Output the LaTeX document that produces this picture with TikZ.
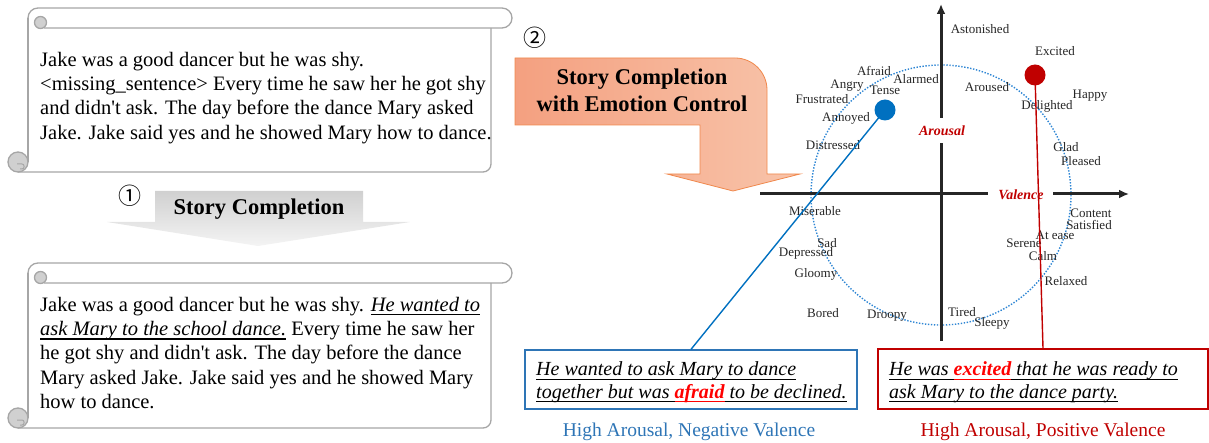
\documentclass[tikz,border=0pt]{standalone}
\usepackage{fontspec}
\setmainfont{Liberation Serif}[Ligatures=TeXOff]
\newfontfamily\circfont{Noto Sans CJK JP}
\newsavebox{\myulbox}
\newcommand{\myul}[1]{\leavevmode\sbox{\myulbox}{#1}\rlap{\rule[-3.9pt]{\wd\myulbox}{1.1pt}}\usebox{\myulbox}}
\usetikzlibrary{arrows.meta}
\definecolor{scrollgray}{HTML}{A6A6A6}
\definecolor{curlgray}{HTML}{D0D0D0}
\definecolor{axisgray}{HTML}{262626}
\definecolor{emotext}{HTML}{262626}
\definecolor{ringblue}{HTML}{2E86D4}
\definecolor{bluedot}{HTML}{0070C0}
\definecolor{reddot}{HTML}{C00000}
\definecolor{boxblue}{HTML}{2E75B6}
\definecolor{boxred}{HTML}{C00000}
\definecolor{axred}{HTML}{C00000}
\definecolor{hotred}{HTML}{FF0000}
\definecolor{orangeL}{HTML}{F4A080}
\definecolor{orangeR}{HTML}{F8C4AA}
\definecolor{orangeLine}{HTML}{F0884C}
\definecolor{grayT}{HTML}{D0D0D0}
\definecolor{grayM}{HTML}{B8B8B8}
\definecolor{grayB}{HTML}{F4F4F4}

\newcommand{\drawscroll}[2]{%
  \draw[scrollline] (28,#2-10) -- (28,#1+10);
  \draw[scrollline, rounded corners=10] (28,#1+12) -- (28,#1) -- (512,#1) -- (512,#1+20) -- (44,#1+20);
  \filldraw[curlfill] (40.5,#1+14.5) circle (6);
  \draw[scrollline, rounded corners=8] (491,#1+20) -- (491,#2) -- (18,#2);
  \filldraw[curlfill] (18,#2-10) circle (10);
  \draw[scrollline, line width=1pt, rounded corners=2] (17,#2-8) -- (24,#2-8) -- (24,#2-3) -- (20,#2-3);
}

\begin{document}
\begin{tikzpicture}[x=1pt,y=-1pt,
  scrollline/.style={draw=scrollgray,line width=1.3pt},
  curlfill/.style={fill=curlgray,draw=scrollgray,line width=1.3pt},
  storytext/.style={anchor=base west,inner sep=0pt,font=\fontsize{20.5}{24.2}\selectfont},
  boxtext/.style={anchor=base west,inner sep=0pt,font=\fontsize{20}{22.6}\selectfont},
  emo/.style={inner sep=0pt,text=emotext,font=\fontsize{13}{15}\selectfont},
  axisline/.style={draw=axisgray,line width=3pt},
  axlabel/.style={inner sep=0pt,text=axred,font=\fontsize{14}{16}\selectfont\bfseries\itshape},
  emodot/.style={circle,inner sep=0pt,minimum size=21pt},
  steplabel/.style={inner sep=0pt,anchor=base,font=\fontsize{22.5}{26}\selectfont\bfseries},
  circnum/.style={inner sep=0pt,font=\circfont\fontsize{23}{25}\selectfont},
  outbox/.style={inner sep=0pt,line width=1.3pt},
  bottomlabel/.style={inner sep=0pt,anchor=base,font=\fontsize{19.5}{22}\selectfont},
]
\useasboundingbox (0,0) rectangle (1209,443);

% ---------- scrolls ----------
\drawscroll{8}{172}
\drawscroll{263}{428}

\node[storytext] (s1text) at (40,66.5) {\begin{minipage}[t]{520pt}Jake was a good dancer but he was shy.\\
<missing\_sentence> Every time he saw her he got shy\\
and didn't ask. The day before the dance Mary asked\\
Jake. Jake said yes and he showed Mary how to dance.\end{minipage}};

\node[storytext] (s2text) at (40,311.5) {\begin{minipage}[t]{520pt}Jake was a good dancer but he was shy. \textit{\myul{He wanted to}}\\
\textit{\myul{ask Mary to the school dance.}} Every time he saw her\\
he got shy and didn't ask. The day before the dance\\
Mary asked Jake. Jake said yes and he showed Mary\\
how to dance.\end{minipage}};

% ---------- step 1 arrow ----------
\shade[top color=grayT, middle color=grayM, bottom color=grayB]
  (155,191) -- (363,191) -- (363,222) -- (410,222) -- (258,246) -- (107,222) -- (155,222) -- cycle;
\node[steplabel] (sc) at (259,215) {Story Completion};
\node[circnum] (n1) at (130,196) {①};

% ---------- step 2 arrow ----------
\shade[left color=orangeL, right color=orangeR, draw=orangeLine, line width=0.8pt]
  (515,58) -- (735,58) .. controls (752.7,58) and (767,72.3) .. (767,90) -- (767,174) -- (800,174)
  -- (733,191) -- (667,174) -- (700,174) -- (700,125) -- (515,125) -- cycle;
\node[steplabel] (sce1) at (642,85) {Story Completion};
\node[steplabel] (sce2) at (642,111.5) {with Emotion Control};
\node[circnum] (n2) at (535,38) {②};

% ---------- circumplex ----------
\coordinate (origin) at (941,195);
\draw[draw=ringblue, line width=1.4pt, dash pattern=on 1.4pt off 1.6pt] (origin) circle (130);

\coordinate (vbot) at (941,341);
\coordinate (vg2) at (941,143);
\coordinate (vg1) at (941,118);
\coordinate (vtop) at (941,4);
\coordinate (hleft) at (760,194);
\coordinate (hg1) at (988,194);
\coordinate (hg2) at (1053,194);
\coordinate (hright) at (1129,194);
\draw[axisline] (vbot) -- (vg2);
\draw[axisline, -{Latex[length=10pt,width=9pt]}] (vg1) -- (vtop);
\draw[axisline] (hleft) -- (hg1);
\draw[axisline, -{Latex[length=10pt,width=9pt]}] (hg2) -- (hright);
\node[axlabel] (arousal) at (942,131) {Arousal};
\node[axlabel] (valence) at (1021,195) {Valence};

\node[emo] (astonished) at (980,29) {Astonished};
\node[emo] (excited) at (1055,51) {Excited};
\node[emo] (afraid) at (874,71) {Afraid};
\node[emo] (alarmed) at (916,79) {Alarmed};
\node[emo] (angry) at (847,86) {Angry};
\node[emo] (tense) at (885,90) {Tense};
\node[emo] (aroused) at (987,87) {Aroused};
\node[emo] (happy) at (1090,96) {Happy};
\node[emo] (frustrated) at (822,99) {Frustrated};
\node[emo] (delighted) at (1047,106) {Delighted};
\node[emo] (annoyed) at (846,118) {Annoyed};
\node[emo] (distressed) at (833,145) {Distressed};
\node[emo] (glad) at (1066,147) {Glad};
\node[emo] (pleased) at (1081,161) {Pleased};
\node[emo] (miserable) at (815,211) {Miserable};
\node[emo] (content) at (1091,213) {Content};
\node[emo] (satisfied) at (1089,225) {Satisfied};
\node[emo] (atease) at (1055,235) {At ease};
\node[emo] (serene) at (1024,243) {Serene};
\node[emo] (sad) at (827,243) {Sad};
\node[emo] (depressed) at (806,253) {Depressed};
\node[emo] (calm) at (1043,256) {Calm};
\node[emo] (gloomy) at (816,274) {Gloomy};
\node[emo] (relaxed) at (1066,281) {Relaxed};
\node[emo] (tired) at (962,312) {Tired};
\node[emo] (bored) at (823,313) {Bored};
\node[emo] (droopy) at (887,316) {Droopy};
\node[emo] (sleepy) at (992,323) {Sleepy};

% ---------- output boxes ----------
\node[outbox, draw=boxblue, minimum width=332pt, minimum height=59pt] (bbox) at (691,379.5) {};
\node[outbox, draw=boxred, minimum width=330pt, minimum height=60pt] (rbox) at (1043,379) {};

\node[boxtext] (btext) at (536,375.7) {\begin{minipage}[t]{330pt}\itshape\myul{He wanted to ask Mary to dance}\\
\myul{together but was }\textcolor{hotred}{\bfseries\myul{afraid}}\myul{ to be declined.}\end{minipage}};
\node[boxtext] (rtext) at (889,375.7) {\begin{minipage}[t]{320pt}\itshape\myul{He was }\textcolor{hotred}{\bfseries\myul{excited}}\myul{ that he was ready to}\\
\myul{ask Mary to the dance party.}\end{minipage}};

\node[bottomlabel, text=boxblue] (blab) at (689,436) {High Arousal, Negative Valence};
\node[bottomlabel, text=boxred] (rlab) at (1043,436) {High Arousal, Positive Valence};

% ---------- connectors and dots ----------
\coordinate (bpos) at (885,110);
\coordinate (rpos) at (1035,75);
\draw[draw=bluedot, line width=1.4pt] (bpos) -- (bbox.north);
\draw[draw=reddot, line width=1.4pt] (rpos) -- (rbox.north);
\node[emodot, fill=bluedot] (bdot) at (bpos) {};
\node[emodot, fill=reddot] (rdot) at (rpos) {};
\end{tikzpicture}
\end{document}
